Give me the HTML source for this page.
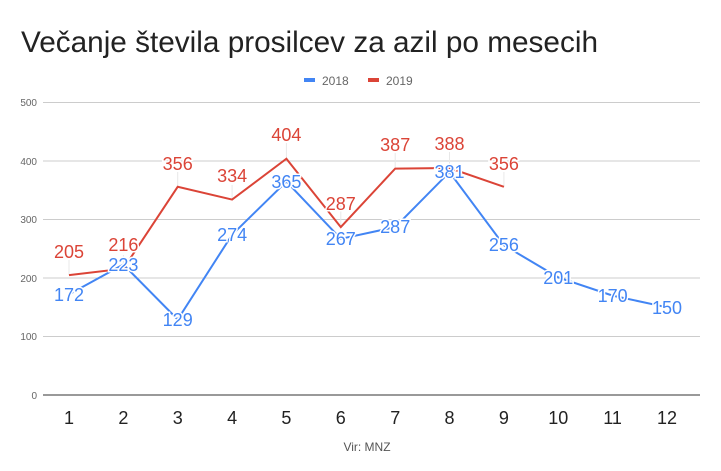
<!DOCTYPE html>
<html><head><meta charset="utf-8"><style>
body{margin:0;background:#fff}
svg{display:block;font-family:"Liberation Sans",sans-serif}
.v{font-size:18px;text-anchor:middle;paint-order:stroke;stroke:#fff;stroke-width:3px}
</style></head><body>
<svg width="721" height="471" viewBox="0 0 721 471">
<text x="21" y="52" font-size="30" fill="#222" textLength="577" lengthAdjust="spacingAndGlyphs">Večanje števila prosilcev za azil po mesecih</text>
<rect x="304" y="78" width="11" height="4" fill="#4285f4"/><text x="322" y="85" font-size="12" fill="#666">2018</text>
<rect x="368" y="78" width="11" height="4" fill="#db4437"/><text x="386" y="85" font-size="12" fill="#666">2019</text>
<g stroke="#ccc" stroke-width="1">
<line x1="43" x2="700" y1="102.5" y2="102.5"/><line x1="43" x2="700" y1="161" y2="161"/><line x1="43" x2="700" y1="219.5" y2="219.5"/><line x1="43" x2="700" y1="278" y2="278"/><line x1="43" x2="700" y1="336.5" y2="336.5"/></g>
<line x1="43" x2="700" y1="395" y2="395" stroke="#333"/>
<g font-size="10" fill="#666" text-anchor="end">
<text x="37" y="106">500</text><text x="37" y="165">400</text><text x="37" y="223">300</text><text x="37" y="282">200</text><text x="37" y="340">100</text><text x="37" y="399">0</text></g>
<g font-size="18" fill="#222" text-anchor="middle">
<text x="69" y="424">1</text><text x="123.4" y="424">2</text><text x="177.7" y="424">3</text><text x="232.1" y="424">4</text><text x="286.4" y="424">5</text><text x="340.8" y="424">6</text><text x="395.2" y="424">7</text><text x="449.5" y="424">8</text><text x="503.9" y="424">9</text><text x="558.3" y="424">10</text><text x="612.6" y="424">11</text><text x="667" y="424">12</text></g>
<text x="367" y="451" font-size="12" fill="#555" text-anchor="middle">Vir: MNZ</text>
<g stroke="#e8e8e8" stroke-width="1">
<line x1="69" x2="69" y1="260" y2="275"/><line x1="123.4" x2="123.4" y1="255" y2="269"/><line x1="177.7" x2="177.7" y1="172" y2="187"/><line x1="232.1" x2="232.1" y1="185" y2="200"/><line x1="286.4" x2="286.4" y1="143" y2="159"/><line x1="340.8" x2="340.8" y1="197" y2="227"/><line x1="395.2" x2="395.2" y1="153" y2="169"/><line x1="449.5" x2="449.5" y1="152" y2="168"/><line x1="503.9" x2="503.9" y1="172" y2="187"/></g>
<polyline fill="none" stroke="#4285f4" stroke-width="2" points="69,294.4 123.4,264.5 177.7,319.5 232.1,234.7 286.4,181.5 340.8,238.8 395.2,227.1 449.5,172.1 503.9,245.2 558.3,277.4 612.6,295.6 667,307.3"/>
<polyline fill="none" stroke="#db4437" stroke-width="2" points="69,275.1 123.4,268.7 177.7,186.8 232.1,199.6 286.4,158.7 340.8,227.1 395.2,168.6 449.5,168 503.9,186.8"/>
<g fill="#4285f4">
<text class="v" x="69" y="301">172</text><text class="v" x="123.4" y="271">223</text><text class="v" x="177.7" y="326">129</text><text class="v" x="232.1" y="241">274</text><text class="v" x="286.4" y="188">365</text><text class="v" x="340.8" y="245">267</text><text class="v" x="395.2" y="233">287</text><text class="v" x="449.5" y="178">381</text><text class="v" x="503.9" y="251">256</text><text class="v" x="558.3" y="284">201</text><text class="v" x="612.6" y="302">170</text><text class="v" x="667" y="314">150</text></g>
<g fill="#db4437">
<text class="v" x="69" y="258">205</text><text class="v" x="123.4" y="251">216</text><text class="v" x="177.7" y="170">356</text><text class="v" x="232.1" y="182">334</text><text class="v" x="286.4" y="141">404</text><text class="v" x="340.8" y="210">287</text><text class="v" x="395.2" y="151">387</text><text class="v" x="449.5" y="150">388</text><text class="v" x="503.9" y="170">356</text></g>
</svg>
</body></html>
